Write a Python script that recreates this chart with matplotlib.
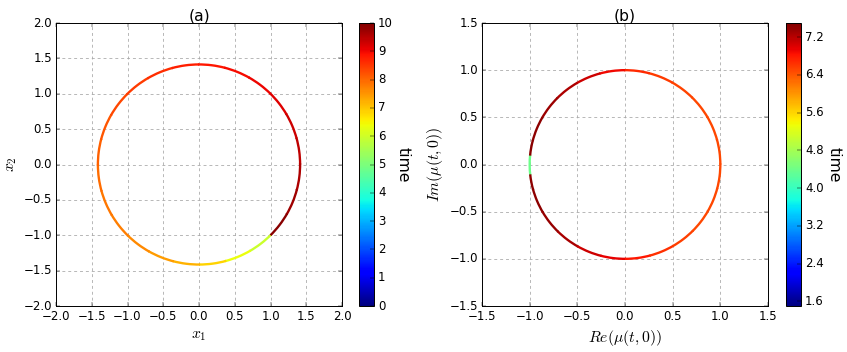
import numpy as np
import matplotlib
matplotlib.use("Agg")
import matplotlib.pyplot as plt
from matplotlib.patches import Arc
from matplotlib.colors import Normalize
from matplotlib.cm import ScalarMappable
from matplotlib.ticker import MultipleLocator

plt.style.use("classic")
plt.rcParams["figure.facecolor"] = "white"
plt.rcParams["savefig.facecolor"] = "white"
plt.rcParams["mathtext.fontset"] = "cm"

# (a) trajectory in the (x1, x2) plane: angle on the circle (deg) and time, in time order
a_radius = 1.414
a_theta = [315, 300, 285, 270, 255, 240, 225, 210, 195, 180, 165, 150, 135,
           120, 105, 90, 75, 60, 45, 30, 15, 0, -15, -30, -45]
a_time = [5.8, 6.1, 6.6, 7.1, 7.35, 7.55, 7.7, 7.8, 7.9, 8.0, 8.1, 8.25, 8.4,
          8.55, 8.7, 8.8, 8.9, 9.0, 9.1, 9.25, 9.4, 9.5, 9.65, 9.8, 10.0]
a_tmin, a_tmax = 0.0, 10.0
a_cticks = [0, 1, 2, 3, 4, 5, 6, 7, 8, 9, 10]

# (b) mu(t,0) in the complex plane
b_radius = 1.0
b_theta = [186, 195, 210, 225, 240, 255, 270, 285, 300, 315, 330, 345, 360,
           375, 390, 405, 420, 435, 450, 465, 480, 495, 510, 525, 534]
b_time = [7.4, 7.45, 7.4, 7.35, 7.2, 7.0, 6.9, 6.7, 6.6, 6.5, 6.5, 6.5, 6.5,
          6.5, 6.5, 6.5, 6.55, 6.6, 6.8, 7.0, 7.2, 7.3, 7.4, 7.45, 7.45]
b_jump_theta = [174, 186]
b_jump_time = [4.4, 4.4]
b_tmin, b_tmax = 1.5, 7.5
b_cticks = [1.6, 2.4, 3.2, 4.0, 4.8, 5.6, 6.4, 7.2]

cmap = plt.get_cmap("jet")


def draw_path(ax, r, thetas, times, norm, lw=2.4):
    for i in range(len(thetas) - 1):
        t1, t2 = sorted((thetas[i], thetas[i + 1]))
        c = cmap(norm(0.5 * (times[i] + times[i + 1])))
        ax.add_patch(Arc((0, 0), 2 * r, 2 * r, theta1=t1, theta2=t2 + 0.6,
                         color=c, lw=lw, zorder=2))


def style_axes(ax, lim):
    ax.set_xlim(-lim, lim)
    ax.set_ylim(-lim, lim)
    ax.xaxis.set_major_locator(MultipleLocator(0.5))
    ax.yaxis.set_major_locator(MultipleLocator(0.5))
    ax.set_axisbelow(True)
    ax.grid(True, color="0.65", linestyle=(0, (3, 3)), lw=0.8)
    ax.tick_params(labelsize=12)


W, H = 847, 352
dpi = W / 12.0
fig = plt.figure(figsize=(12, H / dpi), dpi=dpi)

ax1 = fig.add_axes([56 / W, 46 / H, 286 / W, 283 / H])
cax1 = fig.add_axes([359 / W, 46 / H, 15 / W, 283 / H])
ax2 = fig.add_axes([482 / W, 46 / H, 286 / W, 283 / H])
cax2 = fig.add_axes([786 / W, 46 / H, 15 / W, 283 / H])

norm_a = Normalize(a_tmin, a_tmax)
draw_path(ax1, a_radius, a_theta, a_time, norm_a)
style_axes(ax1, 2.0)
ax1.set_xlabel("$x_1$", fontsize=16)
ax1.set_ylabel("$x_2$", fontsize=16)
ax1.set_title("(a)", fontsize=16, pad=3)
cb1 = fig.colorbar(ScalarMappable(norm=norm_a, cmap=cmap), cax=cax1, ticks=a_cticks)
cb1.ax.tick_params(labelsize=12)
cb1.set_label("time", rotation=270, fontsize=16, labelpad=18)

norm_b = Normalize(b_tmin, b_tmax)
draw_path(ax2, b_radius, b_jump_theta, b_jump_time, norm_b)
draw_path(ax2, b_radius, b_theta, b_time, norm_b)
style_axes(ax2, 1.5)
ax2.set_xlabel(r"$Re(\mu(t,0))$", fontsize=16)
ax2.set_ylabel(r"$Im(\mu(t,0))$", fontsize=16)
ax2.set_title("(b)", fontsize=16, pad=3)
cb2 = fig.colorbar(ScalarMappable(norm=norm_b, cmap=cmap), cax=cax2, ticks=b_cticks)
cb2.ax.tick_params(labelsize=12)
cb2.ax.set_yticklabels([f"{v:.1f}" for v in b_cticks])
cb2.set_label("time", rotation=270, fontsize=16, labelpad=18)

fig.savefig("out.png", dpi=dpi)
